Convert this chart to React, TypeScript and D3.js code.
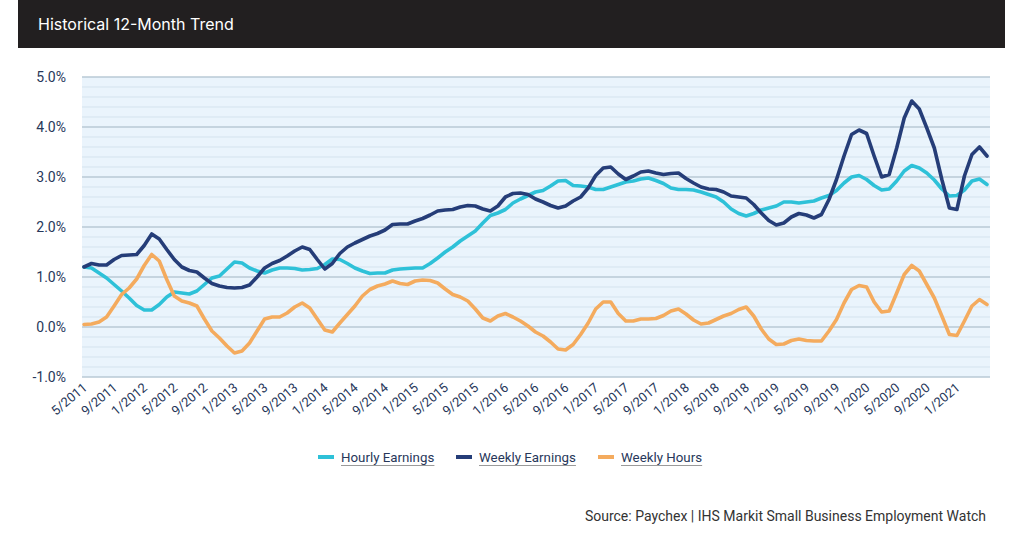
import React, { useEffect, useRef } from "react";
import * as d3 from "d3";

const hourlyEarnings = [
  1.20, 1.18, 1.08, 0.98, 0.85, 0.72, 0.58, 0.43, 0.34, 0.34,
  0.45, 0.60, 0.70, 0.68, 0.66, 0.72, 0.85, 0.98, 1.02, 1.16,
  1.30, 1.28, 1.18, 1.12, 1.08, 1.14, 1.18, 1.18, 1.17, 1.14,
  1.15, 1.17, 1.25, 1.36, 1.35, 1.27, 1.18, 1.12, 1.07, 1.08,
  1.08, 1.14, 1.16, 1.17, 1.18, 1.18, 1.27, 1.38, 1.50, 1.60,
  1.72, 1.82, 1.92, 2.08, 2.23, 2.28, 2.35, 2.48, 2.56, 2.63,
  2.70, 2.73, 2.82, 2.92, 2.93, 2.83, 2.82, 2.80, 2.75, 2.75,
  2.80, 2.85, 2.90, 2.92, 2.96, 2.98, 2.93, 2.87, 2.78, 2.75,
  2.75, 2.74, 2.70, 2.65, 2.60, 2.50, 2.36, 2.27, 2.22, 2.27,
  2.34, 2.38, 2.42, 2.50, 2.50, 2.48, 2.50, 2.52, 2.58, 2.63,
  2.73, 2.88, 3.00, 3.03, 2.95, 2.83, 2.74, 2.76, 2.92, 3.12,
  3.23, 3.18, 3.08, 2.94, 2.76, 2.62, 2.63, 2.74, 2.92, 2.96,
  2.85,
];

const weeklyEarnings = [
  1.20, 1.27, 1.24, 1.24, 1.35, 1.43, 1.44, 1.45, 1.63, 1.86,
  1.76, 1.55, 1.35, 1.20, 1.13, 1.10, 0.98, 0.87, 0.82, 0.79,
  0.78, 0.79, 0.84, 1.00, 1.18, 1.27, 1.33, 1.42, 1.52, 1.60,
  1.55, 1.35, 1.16, 1.27, 1.47, 1.60, 1.68, 1.75, 1.82, 1.87,
  1.94, 2.05, 2.06, 2.06, 2.12, 2.17, 2.24, 2.32, 2.34, 2.35,
  2.40, 2.43, 2.42, 2.36, 2.32, 2.42, 2.60, 2.67, 2.68, 2.65,
  2.56, 2.50, 2.43, 2.38, 2.42, 2.52, 2.60, 2.78, 3.03, 3.18,
  3.20, 3.06, 2.95, 3.02, 3.10, 3.12, 3.08, 3.05, 3.07, 3.08,
  2.97, 2.88, 2.80, 2.76, 2.75, 2.70, 2.62, 2.60, 2.58, 2.45,
  2.28, 2.13, 2.04, 2.08, 2.20, 2.27, 2.24, 2.18, 2.25, 2.55,
  2.95, 3.42, 3.85, 3.94, 3.87, 3.42, 3.00, 3.05, 3.58, 4.18,
  4.52, 4.36, 3.98, 3.58, 2.95, 2.38, 2.35, 3.02, 3.45, 3.60,
  3.42,
];

const weeklyHours = [
  0.05, 0.06, 0.10, 0.20, 0.42, 0.65, 0.78, 0.96, 1.23, 1.45,
  1.32, 0.95, 0.62, 0.52, 0.48, 0.42, 0.16, -0.08, -0.22, -0.38,
  -0.52, -0.48, -0.32, -0.08, 0.16, 0.20, 0.20, 0.28, 0.40, 0.48,
  0.38, 0.16, -0.06, -0.10, 0.08, 0.25, 0.42, 0.62, 0.75, 0.82,
  0.86, 0.92, 0.87, 0.85, 0.92, 0.94, 0.93, 0.88, 0.76, 0.65,
  0.60, 0.52, 0.36, 0.18, 0.12, 0.22, 0.27, 0.20, 0.12, 0.02,
  -0.10, -0.18, -0.30, -0.44, -0.46, -0.35, -0.15, 0.08, 0.36, 0.50,
  0.50, 0.27, 0.12, 0.12, 0.16, 0.16, 0.17, 0.23, 0.32, 0.36,
  0.26, 0.14, 0.06, 0.08, 0.15, 0.22, 0.27, 0.35, 0.40, 0.22,
  -0.04, -0.24, -0.35, -0.34, -0.27, -0.24, -0.27, -0.28, -0.28, -0.08,
  0.15, 0.48, 0.75, 0.83, 0.80, 0.50, 0.30, 0.32, 0.68, 1.05,
  1.23, 1.12, 0.85, 0.58, 0.22, -0.15, -0.17, 0.12, 0.42, 0.55,
  0.45,
];

// month labels 5/2011 .. 5/2021
const months: string[] = (() => {
  const out: string[] = [];
  let m = 5, y = 2011;
  for (let i = 0; i < hourlyEarnings.length; i++) {
    out.push(`${m}/${y}`);
    m++;
    if (m > 12) { m = 1; y++; }
  }
  return out;
})();

const xTickLabels = [
  "5/2011", "9/2011", "1/2012", "5/2012", "9/2012", "1/2013", "5/2013", "9/2013",
  "1/2014", "5/2014", "9/2014", "1/2015", "5/2015", "9/2015", "1/2016", "5/2016",
  "9/2016", "1/2017", "5/2017", "9/2017", "1/2018", "5/2018", "9/2018", "1/2019",
  "5/2019", "9/2019", "1/2020", "5/2020", "9/2020", "1/2021",
];

const yTicks = [-1, 0, 1, 2, 3, 4, 5];

const seriesNames = ["Hourly Earnings", "Weekly Earnings", "Weekly Hours"];
const seriesColors = ["#2ec1d8", "#253d78", "#f4ab5e"];

export default function App() {
  const ref = useRef<SVGSVGElement>(null);

  useEffect(() => {
    const svg = d3.select(ref.current);
    svg.selectAll("*").remove();

    const left = 82, right = 990, top = 77, bottom = 377;

    // header bar
    svg.append("rect").attr("x", 18).attr("y", 0).attr("width", 987).attr("height", 48).attr("fill", "#221f20");
    svg.append("text").attr("x", 38).attr("y", 30).attr("fill", "#ffffff")
      .attr("font-family", "Inter, 'Open Sans', sans-serif").attr("font-size", 16)
      .text("Historical 12-Month Trend");

    const x = d3.scalePoint<string>().domain(months).range([84, 987]);
    const y = d3.scaleLinear().domain([-1, 5]).range([bottom, top]);

    // plot background
    svg.append("rect").attr("x", left).attr("y", top).attr("width", right - left).attr("height", bottom - top).attr("fill", "#eaf4fc");

    // grid
    const minor = d3.range(-1, 5.0001, 0.2).map((v) => Math.round(v * 10) / 10);
    svg.append("g").selectAll("line").data(minor).join("line")
      .attr("x1", left).attr("x2", right)
      .attr("y1", (d) => y(d)).attr("y2", (d) => y(d))
      .attr("stroke", (d) => (Math.abs(d - Math.round(d)) < 1e-6 ? "#b9cad6" : "#d4e3ee"))
      .attr("stroke-width", (d) => (Math.abs(d - Math.round(d)) < 1e-6 ? 1.4 : 1));

    // y axis labels
    svg.append("g").selectAll("text").data(yTicks).join("text")
      .attr("x", 66).attr("y", (d) => y(d)).attr("dy", "0.35em")
      .attr("text-anchor", "end").attr("fill", "#27375a")
      .attr("font-family", "Roboto, sans-serif").attr("font-size", 14)
      .text((d) => `${d.toFixed(1)}%`);

    // x axis labels
    svg.append("g").selectAll("text").data(xTickLabels).join("text")
      .attr("transform", (d) => `translate(${(x(d) as number) + 4},${389}) rotate(-40)`)
      .attr("text-anchor", "end").attr("fill", "#27375a")
      .attr("font-family", "Roboto, sans-serif").attr("font-size", 13)
      .text((d) => d);

    // lines
    const allSeries = [hourlyEarnings, weeklyEarnings, weeklyHours];
    const line = d3.line<number>().x((_, i) => x(months[i]) as number).y((d) => y(d));
    allSeries.forEach((s, k) => {
      svg.append("path").datum(s).attr("d", line).attr("fill", "none")
        .attr("stroke", seriesColors[k]).attr("stroke-width", 3.6)
        .attr("stroke-linejoin", "round").attr("stroke-linecap", "round");
    });

    // legend
    const legendX = [318, 456, 598];
    const lg = svg.append("g");
    seriesNames.forEach((name, k) => {
      lg.append("line").attr("x1", legendX[k]).attr("x2", legendX[k] + 16)
        .attr("y1", 457).attr("y2", 457).attr("stroke", seriesColors[k]).attr("stroke-width", 4);
      const t = lg.append("text").attr("x", legendX[k] + 23).attr("y", 462)
        .attr("fill", "#27375a").attr("font-family", "Roboto, sans-serif").attr("font-size", 13.3)
        .text(name);
      const bb = (t.node() as SVGTextElement).getBBox();
      lg.append("line").attr("x1", bb.x).attr("x2", bb.x + bb.width)
        .attr("y1", 465.5).attr("y2", 465.5).attr("stroke", "#9a9a9a").attr("stroke-width", 1);
    });

    // source
    svg.append("text").attr("x", 986).attr("y", 521).attr("text-anchor", "end")
      .attr("fill", "#333333").attr("font-family", "Roboto, sans-serif").attr("font-size", 14)
      .text("Source: Paychex | IHS Markit Small Business Employment Watch");
  }, []);

  return (
    <svg ref={ref} width={1023} height={536}
      style={{ position: "absolute", left: 0, top: 0, background: "#ffffff" }} />
  );
}
